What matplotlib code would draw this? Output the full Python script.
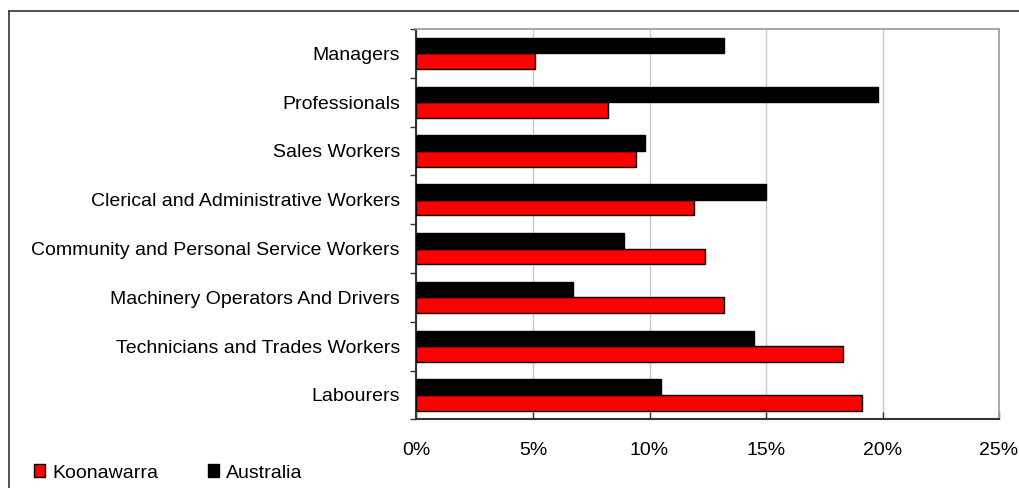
import matplotlib
matplotlib.use("Agg")
import matplotlib.pyplot as plt
from matplotlib.lines import Line2D
from matplotlib.ticker import FuncFormatter, FixedLocator
import numpy as np

plt.rcParams['font.family'] = ['Liberation Sans', 'DejaVu Sans']

categories = ["Managers", "Professionals", "Sales Workers",
              "Clerical and Administrative Workers",
              "Community and Personal Service Workers",
              "Machinery Operators And Drivers",
              "Technicians and Trades Workers", "Labourers"]
koonawarra = [5.1, 8.2, 9.4, 11.9, 12.4, 13.2, 18.3, 19.1]
australia = [13.2, 19.8, 9.8, 15.0, 8.9, 6.7, 14.5, 10.5]
series_names = ["Koonawarra", "Australia"]
xticks = [0, 5, 10, 15, 20, 25]

fs = 14
fig = plt.figure(figsize=(10.2, 4.88), dpi=100)
ax = fig.add_axes([416.5/1020, 1-419.3/488, (999-416.5)/1020, (419.3-29)/488])

n = len(categories)
y = np.arange(n)
h = 0.32
b_red = ax.barh(y + h/2, koonawarra, height=h, color='#ff0000', edgecolor='black', linewidth=1.0, zorder=3)
b_blk = ax.barh(y - h/2, australia, height=h, color='black', edgecolor='black', linewidth=1.0, zorder=3)

ax.set_ylim(n - 0.5, -0.5)
ax.set_xlim(0, 25)
ax.set_xticks(xticks)
ax.xaxis.set_major_formatter(FuncFormatter(lambda v, p: f"{int(v)}%"))
ax.set_yticks(y)
ax.set_yticklabels(categories)
ax.yaxis.set_minor_locator(FixedLocator(np.arange(-0.5, n, 1.0)))
ax.tick_params(axis='y', which='major', length=0, pad=12, labelsize=fs)
ax.tick_params(axis='y', which='minor', length=4, width=1, color='#333333', direction='out')
ax.tick_params(axis='x', which='major', length=5, width=1, color='#333333', direction='in', pad=16, labelsize=fs)

ax.grid(axis='x', color='#c8c8c8', linewidth=1, zorder=0)
ax.set_axisbelow(True)
for s in ['top', 'right']:
    ax.spines[s].set_color('#a0a0a0')
    ax.spines[s].set_linewidth(1.3)
for s in ['left', 'bottom']:
    ax.spines[s].set_color('#333333')
    ax.spines[s].set_linewidth(1.5)

# outer chart frame
fig.add_artist(Line2D([9.5/1020, 9.5/1020], [0, 1-11/488], transform=fig.transFigure, color='#333333', linewidth=1.2))
fig.add_artist(Line2D([9.5/1020, 1], [1-11/488, 1-11/488], transform=fig.transFigure, color='#333333', linewidth=1.2))

fig.legend([b_red, b_blk], series_names, ncol=2, loc='center left',
           bbox_to_anchor=(26/1020, 1-473/488), frameon=False,
           handlelength=0.6, handleheight=0.6, handletextpad=0.35,
           columnspacing=2.55, fontsize=fs, borderaxespad=0)

fig.savefig("out.png", dpi=100)
